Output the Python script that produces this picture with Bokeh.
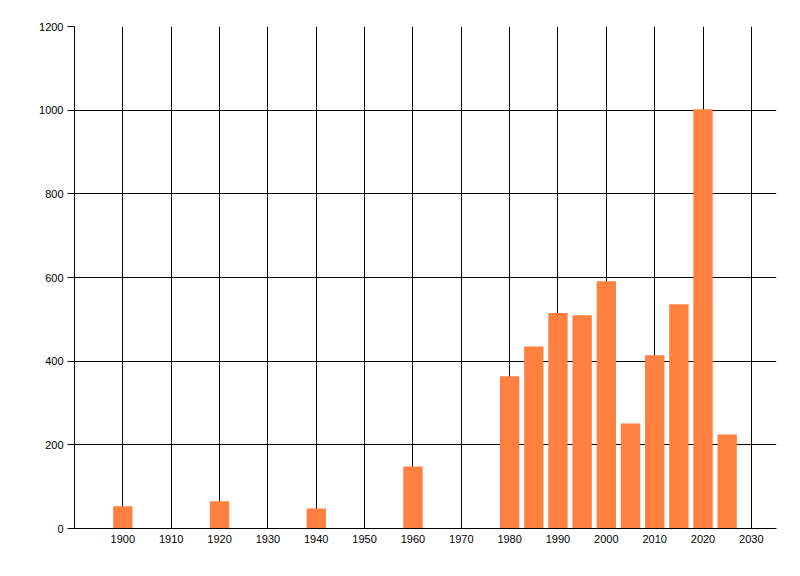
from bokeh.plotting import figure
from bokeh.models import FixedTicker, Range1d
from bokeh.embed import file_html
from bokeh.resources import INLINE

# values
years = [1900, 1920, 1940, 1960, 1980, 1985, 1990, 1995, 2000, 2005, 2010, 2015, 2020, 2025]
counts = [53, 65, 48, 148, 364, 435, 515, 510, 591, 251, 414, 536, 1002, 225]

x_ticks = list(range(1900, 2031, 10))
y_ticks = list(range(0, 1201, 200))

p = figure(width=790, height=560, output_backend="svg", toolbar_location=None,
           x_range=Range1d(1890, 2035.2), y_range=Range1d(0, 1200),
           min_border_left=74, min_border_right=14, min_border_top=26, min_border_bottom=32)
p.outline_line_color = None
p.background_fill_color = "white"
p.border_fill_color = "white"

p.vbar(x=years, top=counts, width=4, bottom=0, fill_color="#FF8040", line_color=None)

# grid
for g in (p.xgrid, p.ygrid):
    g.grid_line_color = "black"
    g.grid_line_width = 1
p.xgrid.ticker = FixedTicker(ticks=x_ticks)
p.ygrid.ticker = FixedTicker(ticks=y_ticks)

# axes
p.xaxis.ticker = FixedTicker(ticks=x_ticks)
p.yaxis.ticker = FixedTicker(ticks=y_ticks)
for ax in (p.xaxis, p.yaxis):
    ax.axis_line_color = "black"
    ax.axis_line_width = 1
    ax.major_tick_line_color = "black"
    ax.minor_tick_line_color = None
    ax.major_tick_in = 0
    ax.major_label_text_font = "Liberation Sans"
    ax.major_label_text_font_size = "11px"
    ax.major_label_text_color = "black"
p.xaxis.major_tick_out = 0
p.xaxis.major_label_standoff = 6
p.yaxis.major_tick_out = 7
p.yaxis.major_label_standoff = 4

open("out.html", "w").write(file_html(p, INLINE))
